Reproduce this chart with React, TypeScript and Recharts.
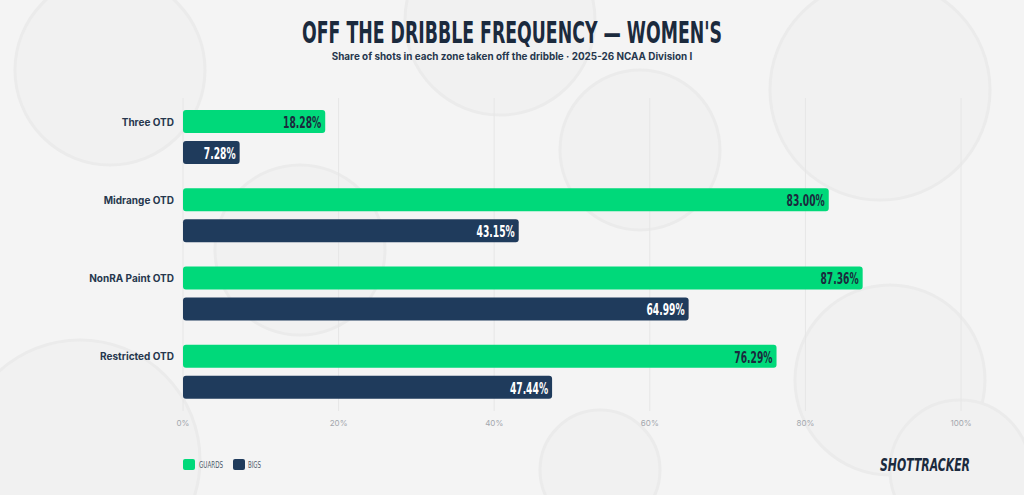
import React from 'react';
import {
  BarChart,
  Bar,
  XAxis,
  YAxis,
  CartesianGrid,
  LabelList,
} from 'recharts';

const zones = ['Three OTD', 'Midrange OTD', 'NonRA Paint OTD', 'Restricted OTD'];
const guards = [18.28, 83.0, 87.36, 76.29];
const bigs = [7.28, 43.15, 64.99, 47.44];
const xTicks = [0, 20, 40, 60, 80, 100];

const GREEN = '#00d97a';
const NAVY = '#1f3b5c';
const INK = '#1b2a3d';

const data = zones.map((zone, i) => ({ zone, guards: guards[i], bigs: bigs[i] }));

const CONDENSED = "'Liberation Sans Narrow', 'DejaVu Sans Condensed', sans-serif";

const ZoneTick = (props: any) => {
  const { x, y, payload } = props;
  return (
    <text
      x={x}
      y={y - 15.5}
      textAnchor="end"
      dominantBaseline="central"
      fontFamily="Inter, sans-serif"
      fontWeight={700}
      fontSize={10}
      fill="#26374d"
    >
      {payload.value}
    </text>
  );
};

const PctTick = (props: any) => {
  const { x, y, payload } = props;
  return (
    <text
      x={x}
      y={y + 4}
      textAnchor="middle"
      dominantBaseline="central"
      fontFamily="Inter, sans-serif"
      fontSize={8}
      fill="#a3a7ad"
    >
      {payload.value}%
    </text>
  );
};

const valueLabel = (color: string) => (props: any) => {
  const { x, y, width, height, value } = props;
  const ax = x + width - 4;
  return (
    <text
      x={ax}
      y={y + height / 2 + 1}
      textAnchor="end"
      dominantBaseline="central"
      fontFamily={CONDENSED}
      fontWeight={700}
      fontSize={15}
      fill={color}
      transform={`translate(${ax},0) scale(0.68,1) translate(${-ax},0)`}
    >
      {Number(value).toFixed(2)}%
    </text>
  );
};

const balls = [
  { cx: 110, cy: 70, r: 95 },
  { cx: 500, cy: 20, r: 95 },
  { cx: 880, cy: 90, r: 110 },
  { cx: 300, cy: 250, r: 85 },
  { cx: 640, cy: 150, r: 80 },
  { cx: 890, cy: 380, r: 95 },
  { cx: 80, cy: 460, r: 120 },
  { cx: 960, cy: 470, r: 70 },
  { cx: 600, cy: 470, r: 60 },
];

export default function App() {
  return (
    <div
      style={{
        position: 'fixed',
        left: 0,
        top: 0,
        width: 1024,
        height: 495,
        background: '#f4f4f4',
        overflow: 'hidden',
      }}
    >
      <svg width={1024} height={495} style={{ position: 'absolute', left: 0, top: 0 }}>
        {balls.map((b, i) => (
          <circle key={i} cx={b.cx} cy={b.cy} r={b.r} fill="#f1f1f1" stroke="#ebebeb" strokeWidth={3} />
        ))}
        <text
          x={512}
          y={43}
          textAnchor="middle"
          fontFamily={CONDENSED}
          fontWeight={700}
          fontSize={30}
          fill={INK}
          textLength={420}
          lengthAdjust="spacingAndGlyphs"
        >
          OFF THE DRIBBLE FREQUENCY — WOMEN'S
        </text>
        <text
          x={512}
          y={60}
          textAnchor="middle"
          fontFamily="Inter, sans-serif"
          fontWeight={700}
          fontSize={9.9}
          fill="#26374d"
        >
          Share of shots in each zone taken off the dribble · 2025-26 NCAA Division I
        </text>
        <rect x={183} y={459} width={12} height={11} rx={2} fill={GREEN} />
        <text
          x={199}
          y={468}
          fontFamily={CONDENSED}
          fontSize={8.5}
          fill="#4d5868"
          textLength={24}
          lengthAdjust="spacingAndGlyphs"
        >
          GUARDS
        </text>
        <rect x={233} y={459} width={12} height={11} rx={2} fill={NAVY} />
        <text
          x={248}
          y={468}
          fontFamily={CONDENSED}
          fontSize={8.5}
          fill="#4d5868"
          textLength={13}
          lengthAdjust="spacingAndGlyphs"
        >
          BIGS
        </text>
        <text
          x={880}
          y={471}
          fontFamily={CONDENSED}
          fontWeight={700}
          fontStyle="italic"
          fontSize={17}
          fill={INK}
          textLength={90}
          lengthAdjust="spacingAndGlyphs"
        >
          SHOTTRACKER
        </text>
      </svg>
      <div style={{ position: 'absolute', left: 0, top: 0 }}>
        <BarChart
          width={1024}
          height={495}
          data={data}
          layout="vertical"
          margin={{ top: 98, right: 63, bottom: 64, left: 83 }}
          barSize={23}
          barGap={8}
        >
          <CartesianGrid horizontal={false} stroke="#e6e6e6" />
          <XAxis
            type="number"
            domain={[0, 100]}
            ticks={xTicks}
            axisLine={false}
            tickLine={false}
            height={20}
            tick={<PctTick />}
          />
          <YAxis
            type="category"
            dataKey="zone"
            width={100}
            axisLine={false}
            tickLine={false}
            tick={<ZoneTick />}
            tickMargin={3}
          />
          <Bar dataKey="guards" fill={GREEN} radius={3} isAnimationActive={false}>
            <LabelList dataKey="guards" content={valueLabel(INK)} />
          </Bar>
          <Bar dataKey="bigs" fill={NAVY} radius={3} isAnimationActive={false}>
            <LabelList dataKey="bigs" content={valueLabel('#ffffff')} />
          </Bar>
        </BarChart>
      </div>
    </div>
  );
}
